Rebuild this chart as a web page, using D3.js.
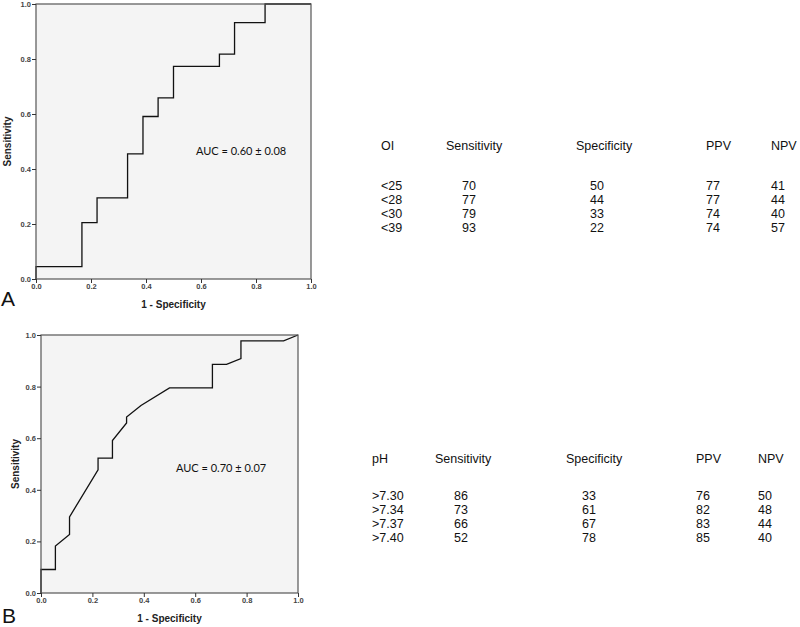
<!DOCTYPE html>
<html>
<head>
<meta charset="utf-8">
<script src="https://cdn.jsdelivr.net/npm/d3@7"></script>
<style>
  body { margin: 0; background: #fff; }
  .tick text { font-family: "Liberation Sans", Arial, sans-serif; font-weight: bold; font-size: 7.5px; fill: #444; }
  .tick line { stroke: #333; }
  .axis-title { font-family: "Liberation Sans", Arial, sans-serif; font-weight: bold; font-size: 10px; fill: #222; }
  .auc { font-family: Lato, "Open Sans", sans-serif; fill: #111; }
  .tbl { font-family: "Liberation Sans", Arial, sans-serif; fill: #111; }
  .panel-letter { font-family: "Liberation Sans", Arial, sans-serif; font-size: 21px; fill: #111; }
</style>
</head>
<body>
<svg width="800" height="627"></svg>
<script>
// ROC curve A (oxygenation index)
const rocAFpr  = [0, 0, 0.167, 0.167, 0.222, 0.222, 0.333, 0.333, 0.389, 0.389, 0.444, 0.444, 0.5, 0.5, 0.667, 0.667, 0.722, 0.722, 0.833, 0.833, 1];
const rocASens = [0, 0.045, 0.045, 0.205, 0.205, 0.295, 0.295, 0.455, 0.455, 0.591, 0.591, 0.659, 0.659, 0.773, 0.773, 0.818, 0.818, 0.932, 0.932, 1, 1];
// ROC curve B (pH)
const rocBFpr  = [0, 0, 0.056, 0.056, 0.111, 0.111, 0.222, 0.222, 0.278, 0.278, 0.333, 0.333, 0.389, 0.5, 0.667, 0.667, 0.722, 0.778, 0.778, 0.944, 1];
const rocBSens = [0, 0.091, 0.091, 0.182, 0.227, 0.295, 0.477, 0.523, 0.523, 0.591, 0.659, 0.682, 0.727, 0.795, 0.795, 0.886, 0.886, 0.909, 0.977, 0.977, 1];

const axisTicks = [0, 0.2, 0.4, 0.6, 0.8, 1.0];

const tableHeaders = ['Sensitivity', 'Specificity', 'PPV', 'NPV'];
const tableACutoffs = ['<25', '<28', '<30', '<39'];
const tableASens = [70, 77, 79, 93];
const tableASpec = [50, 44, 33, 22];
const tableAPpv  = [77, 77, 74, 74];
const tableANpv  = [41, 44, 40, 57];

const tableBCutoffs = ['>7.30', '>7.34', '>7.37', '>7.40'];
const tableBSens = [86, 73, 66, 52];
const tableBSpec = [33, 61, 67, 78];
const tableBPpv  = [76, 82, 83, 85];
const tableBNpv  = [50, 48, 44, 40];

const svg = d3.select('svg');

const renderRoc = (cfg) => {
  const { left, right, top, bottom, fpr, sens, auc, aucPos, letter, letterPos, yTitleX } = cfg;
  const xScale = d3.scaleLinear().domain([0, 1]).range([left, right]);
  const yScale = d3.scaleLinear().domain([0, 1]).range([bottom, top]);
  const g = svg.append('g');

  g.append('rect')
    .attr('x', left).attr('y', top)
    .attr('width', right - left).attr('height', bottom - top)
    .attr('fill', '#f4f4f4');

  const line = d3.line()
    .x(d => xScale(d[0]))
    .y(d => yScale(d[1]));
  g.append('path')
    .attr('d', line(d3.zip(fpr, sens)))
    .attr('fill', 'none')
    .attr('stroke', '#111')
    .attr('stroke-width', 1.3);

  // frame
  g.append('rect')
    .attr('x', left).attr('y', top)
    .attr('width', right - left).attr('height', bottom - top)
    .attr('fill', 'none')
    .attr('stroke', '#555')
    .attr('stroke-width', 1.2);

  const xAxis = g.append('g')
    .attr('transform', `translate(0, ${bottom})`)
    .call(d3.axisBottom(xScale).tickValues(axisTicks).tickFormat(d3.format('.1f')).tickSize(4).tickPadding(1));
  xAxis.select('path.domain').remove();

  const yAxis = g.append('g')
    .attr('transform', `translate(${left}, 0)`)
    .call(d3.axisLeft(yScale).tickValues(axisTicks).tickFormat(d3.format('.1f')).tickSize(4).tickPadding(1));
  yAxis.select('path.domain').remove();

  g.append('text')
    .attr('class', 'axis-title')
    .attr('x', (left + right) / 2)
    .attr('y', bottom + 29)
    .attr('text-anchor', 'middle')
    .text('1 - Specificity');

  g.append('text')
    .attr('class', 'axis-title')
    .attr('transform', `translate(${yTitleX}, ${(top + bottom) / 2}) rotate(-90)`)
    .attr('text-anchor', 'middle')
    .text('Sensitivity');

  g.append('text')
    .attr('class', 'auc')
    .attr('x', aucPos[0]).attr('y', aucPos[1])
    .attr('font-size', 11)
    .text(auc);

  g.append('text')
    .attr('class', 'panel-letter')
    .attr('x', letterPos[0]).attr('y', letterPos[1])
    .text(letter);
};

const renderTable = (cfg) => {
  const { title, cutoffs, cols, colX, labelX, headerY, rowYs, valueX } = cfg;
  const g = svg.append('g').attr('class', 'tbl').attr('font-size', 12.5);
  g.append('text').attr('x', labelX).attr('y', headerY).text(title);
  tableHeaders.forEach((h, i) => {
    g.append('text').attr('x', colX[i]).attr('y', headerY).text(h);
  });
  cutoffs.forEach((c, r) => {
    g.append('text').attr('x', labelX).attr('y', rowYs[r]).text(c);
    cols.forEach((col, i) => {
      g.append('text').attr('x', valueX[i]).attr('y', rowYs[r]).text(col[r]);
    });
  });
};

renderRoc({
  left: 36, right: 311, top: 4, bottom: 279,
  fpr: rocAFpr, sens: rocASens,
  auc: 'AUC = 0.60 \u00b1 0.08', aucPos: [196, 155],
  letter: 'A', letterPos: [1, 306], yTitleX: 11
});

renderRoc({
  left: 41, right: 298, top: 335, bottom: 593,
  fpr: rocBFpr, sens: rocBSens,
  auc: 'AUC = 0.70 \u00b1 0.07', aucPos: [176, 472],
  letter: 'B', letterPos: [2, 623], yTitleX: 19
});

renderTable({
  title: 'OI', cutoffs: tableACutoffs,
  cols: [tableASens, tableASpec, tableAPpv, tableANpv],
  labelX: 381, colX: [446, 576, 706, 771], valueX: [462, 590, 706, 771],
  headerY: 150, rowYs: [190, 204, 218, 232]
});

renderTable({
  title: 'pH', cutoffs: tableBCutoffs,
  cols: [tableBSens, tableBSpec, tableBPpv, tableBNpv],
  labelX: 372, colX: [435, 566, 696, 758], valueX: [454, 582, 696, 758],
  headerY: 463, rowYs: [500, 514, 528, 542]
});
</script>
</body>
</html>
